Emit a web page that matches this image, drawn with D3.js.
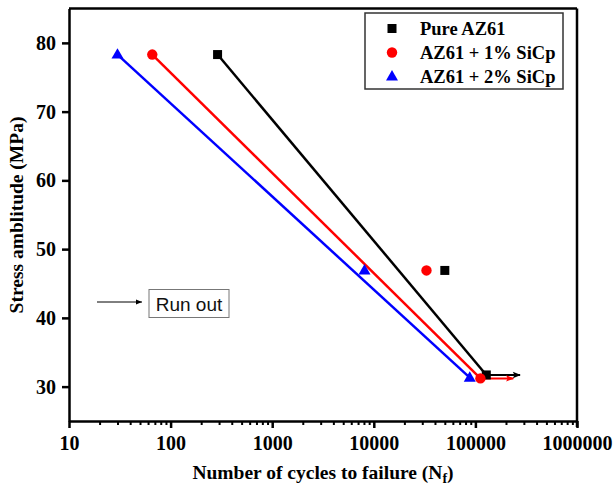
<!DOCTYPE html>
<html>
<head>
<meta charset="utf-8">
<script src="https://cdnjs.cloudflare.com/ajax/libs/d3/7.8.5/d3.min.js"></script>
<style>
  body { margin: 0; background: #fff; }
  text { font-family: "Liberation Serif", "Times New Roman", serif; font-weight: bold; }
</style>
</head>
<body>
<div id="chart"></div>
<script>
// data
const seriesNames = ["Pure AZ61", "AZ61 + 1% SiCp", "AZ61 + 2% SiCp"];
const seriesColors = ["#000000", "#ff0000", "#0000ff"];
const seriesShapes = ["square", "circle", "triangle"];

const pureCycles = [290, 50000, 128000];
const pureStress = [78.3, 46.9, 31.7];
const sic1Cycles = [66, 33000, 112000];
const sic1Stress = [78.3, 46.9, 31.2];
const sic2Cycles = [30, 8100, 88000];
const sic2Stress = [78.3, 46.9, 31.3];

// run out arrows (end of arrow in cycles), null = none
const runOutEnd = [275000, 236000, null];

const xTicks = [10, 100, 1000, 10000, 100000, 1000000];
const yTicks = [30, 40, 50, 60, 70, 80];

const cycles = [pureCycles, sic1Cycles, sic2Cycles];
const stress = [pureStress, sic1Stress, sic2Stress];

const width = 614, height = 486;
const margin = {top: 8.5, right: 37, bottom: 65, left: 69};
const w = width - margin.left - margin.right;
const h = height - margin.top - margin.bottom;

const svg = d3.select("#chart").append("svg")
    .attr("width", width)
    .attr("height", height);

const defs = svg.append("defs");
seriesColors.forEach((c, i) => {
    defs.append("marker")
        .attr("id", "arrow" + i)
        .attr("viewBox", "0 0 10 10")
        .attr("refX", 9).attr("refY", 5)
        .attr("markerWidth", 11).attr("markerHeight", 8)
        .attr("markerUnits", "userSpaceOnUse")
        .attr("orient", "auto")
        .append("path")
        .attr("d", "M0,1 L10,5 L0,9 L2,5 z")
        .attr("fill", c);
});
defs.append("marker")
    .attr("id", "arrowThin")
    .attr("viewBox", "0 0 10 10")
    .attr("refX", 10).attr("refY", 5)
    .attr("markerWidth", 8).attr("markerHeight", 6)
    .attr("markerUnits", "userSpaceOnUse")
    .attr("orient", "auto")
    .append("path")
    .attr("d", "M0,1 L10,5 L0,9 z")
    .attr("fill", "#000");

const g = svg.append("g")
    .attr("transform", "translate(" + margin.left + "," + margin.top + ")");

const x = d3.scaleLog().domain([10, 1000000]).range([0, w]);
const y = d3.scaleLinear().domain([25, 85]).range([h, 0]);

// minor ticks on x
const minor = [];
for (let d = 10; d < 1000000; d *= 10) {
    for (let k = 2; k <= 9; k++) minor.push(d * k);
}
g.append("g")
    .attr("transform", "translate(0," + h + ")")
    .call(d3.axisBottom(x).tickValues(minor).tickSize(4).tickFormat(""))
    .call(a => a.select(".domain").remove())
    .selectAll("line").attr("stroke-width", 2);

// x axis
const xAxis = g.append("g")
    .attr("transform", "translate(0," + h + ")")
    .call(d3.axisBottom(x).tickValues(xTicks).tickSize(7).tickPadding(8)
        .tickFormat(d3.format("d")).tickSizeOuter(0));
xAxis.select(".domain").attr("stroke-width", 2.5);
xAxis.selectAll("line").attr("stroke-width", 2.5);
xAxis.selectAll("text").attr("font-size", 20).attr("fill", "#000")
    .style("font-family", "'Liberation Serif', serif").style("font-weight", "bold");

// y axis
const yAxis = g.append("g")
    .call(d3.axisLeft(y).tickValues(yTicks).tickSize(7).tickPadding(6).tickSizeOuter(0));
yAxis.select(".domain").attr("stroke-width", 2.5);
yAxis.selectAll("line").attr("stroke-width", 2.5);
yAxis.selectAll("text").attr("font-size", 20).attr("fill", "#000")
    .style("font-family", "'Liberation Serif', serif").style("font-weight", "bold");

// top and right spines
g.append("line").attr("x1", 0).attr("x2", w).attr("y1", 0).attr("y2", 0)
    .attr("stroke", "#000").attr("stroke-width", 2.5);
g.append("line").attr("x1", w).attr("x2", w).attr("y1", 0).attr("y2", h + 6)
    .attr("stroke", "#000").attr("stroke-width", 2.5);

// fit lines (first to last point) and run out arrows
const order = [0, 2, 1];
order.forEach(i => {
    const cx = cycles[i], sy = stress[i];
    g.append("line")
        .attr("x1", x(cx[0])).attr("y1", y(sy[0]))
        .attr("x2", x(cx[2])).attr("y2", y(sy[2]))
        .attr("stroke", seriesColors[i]).attr("stroke-width", 2.5);
});
[0, 1].forEach(i => {
    if (runOutEnd[i] == null) return;
    g.append("line")
        .attr("x1", x(cycles[i][2])).attr("y1", y(stress[i][2]))
        .attr("x2", x(runOutEnd[i])).attr("y2", y(stress[i][2]))
        .attr("stroke", seriesColors[i]).attr("stroke-width", 2)
        .attr("marker-end", "url(#arrow" + i + ")");
});

function drawMarker(sel, shape, color, px, py) {
    if (shape === "square") {
        sel.append("rect").attr("x", px - 4.5).attr("y", py - 4.5)
            .attr("width", 9).attr("height", 9).attr("fill", color);
    } else if (shape === "circle") {
        sel.append("circle").attr("cx", px).attr("cy", py).attr("r", 5.2).attr("fill", color);
    } else {
        sel.append("path")
            .attr("d", d3.symbol().type(d3.symbolTriangle).size(62)())
            .attr("transform", "translate(" + px + "," + (py + 0.5) + ")")
            .attr("fill", color);
    }
}

[0, 1, 2].forEach(i => {
    cycles[i].forEach((c, j) => {
        drawMarker(g, seriesShapes[i], seriesColors[i], x(c), y(stress[i][j]));
    });
});

// legend
const leg = svg.append("g").attr("transform", "translate(365,13)");
leg.append("rect").attr("width", 198).attr("height", 76)
    .attr("fill", "#fff").attr("stroke", "#333").attr("stroke-width", 1.5);
seriesNames.forEach((name, i) => {
    const ly = 15.5 + i * 24;
    drawMarker(leg, seriesShapes[i], seriesColors[i], 27, ly);
    leg.append("text").attr("x", 55).attr("y", ly + 6)
        .attr("font-size", 18.5).attr("fill", "#000").text(name);
});

// run out note
svg.append("line").attr("x1", 97).attr("x2", 142).attr("y1", 302).attr("y2", 302)
    .attr("stroke", "#000").attr("stroke-width", 1)
    .attr("marker-end", "url(#arrowThin)");
svg.append("rect").attr("x", 149).attr("y", 289.5).attr("width", 80).attr("height", 28)
    .attr("fill", "#fff").attr("stroke", "#777").attr("stroke-width", 1);
svg.append("text").attr("x", 189).attr("y", 310.5)
    .attr("text-anchor", "middle").attr("font-size", 19).attr("fill", "#111")
    .style("font-family", "'Liberation Sans', Arial, sans-serif").style("font-weight", "normal")
    .text("Run out");

// axis titles
svg.append("text")
    .attr("transform", "translate(23,215) rotate(-90)")
    .attr("text-anchor", "middle").attr("font-size", 19.5).attr("fill", "#000")
    .text("Stress amblitude (MPa)");

const xt = svg.append("text")
    .attr("x", 323).attr("y", 479)
    .attr("text-anchor", "middle").attr("font-size", 19.5).attr("fill", "#000");
xt.append("tspan").text("Number of cycles to failure (N");
xt.append("tspan").attr("dy", 4).attr("font-size", 14).text("f");
xt.append("tspan").attr("dy", -4).text(")");
</script>
</body>
</html>
